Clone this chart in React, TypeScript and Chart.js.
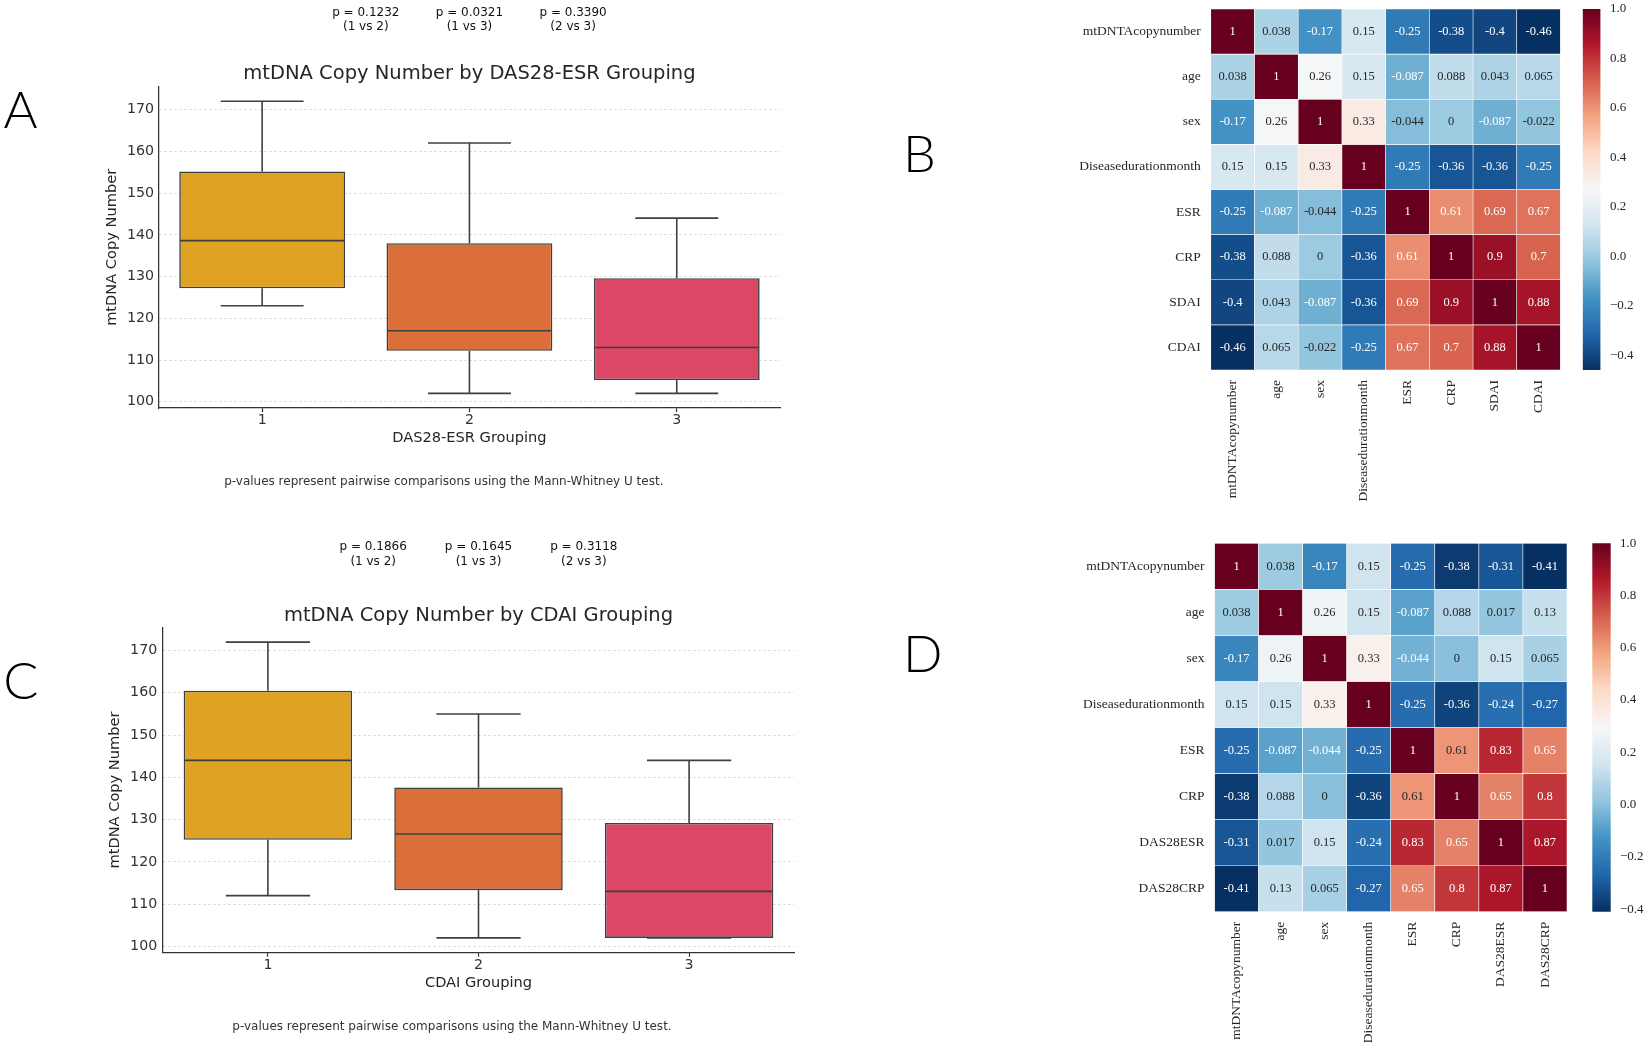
import React, { useEffect, useRef } from 'react';
import { Chart, registerables } from 'chart.js';

Chart.register(...registerables);

// ---------------- DATA ----------------
const groups = ['1', '2', '3'];
const comparisons = ['1 vs 2', '1 vs 3', '2 vs 3'];
const comparisonPositions = [0.5, 1, 1.5];
const boxYTicks = [100, 110, 120, 130, 140, 150, 160, 170];
const boxColors = ['#E0A222', '#DB6F3A', '#DC4766'];
const footnote = 'p-values represent pairwise comparisons using the Mann-Whitney U test.';

// Panel A: DAS28-ESR grouping
const dasMin = [123, 102, 102];
const dasQ1 = [127.2, 112.2, 105.2];
const dasMedian = [138.6, 117, 113];
const dasQ3 = [155.2, 138, 129.6];
const dasMax = [172, 162, 144];
const dasPValues = ['0.1232', '0.0321', '0.3390'];

// Panel C: CDAI grouping
const cdaiMin = [112, 102, 102];
const cdaiQ1 = [125.2, 113.3, 102];
const cdaiMedian = [144, 126.6, 113];
const cdaiQ3 = [160.5, 137.6, 129.2];
const cdaiMax = [172, 155, 144];
const cdaiPValues = ['0.1866', '0.1645', '0.3118'];

// Panel B: correlation heatmap
const varsB = ['mtDNTAcopynumber', 'age', 'sex', 'Diseasedurationmonth', 'ESR', 'CRP', 'SDAI', 'CDAI'];
const corrB = [
  [1, 0.038, -0.17, 0.15, -0.25, -0.38, -0.4, -0.46],
  [0.038, 1, 0.26, 0.15, -0.087, 0.088, 0.043, 0.065],
  [-0.17, 0.26, 1, 0.33, -0.044, 0, -0.087, -0.022],
  [0.15, 0.15, 0.33, 1, -0.25, -0.36, -0.36, -0.25],
  [-0.25, -0.087, -0.044, -0.25, 1, 0.61, 0.69, 0.67],
  [-0.38, 0.088, 0, -0.36, 0.61, 1, 0.9, 0.7],
  [-0.4, 0.043, -0.087, -0.36, 0.69, 0.9, 1, 0.88],
  [-0.46, 0.065, -0.022, -0.25, 0.67, 0.7, 0.88, 1],
];

// Panel D: correlation heatmap
const varsD = ['mtDNTAcopynumber', 'age', 'sex', 'Diseasedurationmonth', 'ESR', 'CRP', 'DAS28ESR', 'DAS28CRP'];
const corrD = [
  [1, 0.038, -0.17, 0.15, -0.25, -0.38, -0.31, -0.41],
  [0.038, 1, 0.26, 0.15, -0.087, 0.088, 0.017, 0.13],
  [-0.17, 0.26, 1, 0.33, -0.044, 0, 0.15, 0.065],
  [0.15, 0.15, 0.33, 1, -0.25, -0.36, -0.24, -0.27],
  [-0.25, -0.087, -0.044, -0.25, 1, 0.61, 0.83, 0.65],
  [-0.38, 0.088, 0, -0.36, 0.61, 1, 0.65, 0.8],
  [-0.31, 0.017, 0.15, -0.24, 0.83, 0.65, 1, 0.87],
  [-0.41, 0.13, 0.065, -0.27, 0.65, 0.8, 0.87, 1],
];

const colorbarTicks = [-0.4, -0.2, 0, 0.2, 0.4, 0.6, 0.8, 1.0];

// RdBu_r colormap stops
const RDBU_R = ['#053061', '#2166ac', '#4393c3', '#92c5de', '#d1e5f0', '#f7f7f7', '#fddbc7', '#f4a582', '#d6604d', '#b2182b', '#67001f'];

// ---------------- HELPERS ----------------
const SANS = '"DejaVu Sans", "Liberation Sans", sans-serif';
const SERIF = '"Liberation Serif", "DejaVu Serif", serif';
const LETTER_FONT = '300 52px Lato, "Liberation Sans", sans-serif';

function hexRgb(h: string): number[] {
  const n = parseInt(h.slice(1), 16);
  return [(n >> 16) & 255, (n >> 8) & 255, n & 255];
}
function cmap(t: number): number[] {
  const tt = Math.max(0, Math.min(1, t));
  const pos = tt * (RDBU_R.length - 1);
  const i = Math.min(RDBU_R.length - 2, Math.floor(pos));
  const f = pos - i;
  const a = hexRgb(RDBU_R[i]);
  const b = hexRgb(RDBU_R[i + 1]);
  return [0, 1, 2].map((k) => Math.round(a[k] + (b[k] - a[k]) * f));
}
function rgbStr(c: number[]) {
  return `rgb(${c[0]},${c[1]},${c[2]})`;
}
function luminance(c: number[]) {
  const lin = c.map((v) => {
    const s = v / 255;
    return s <= 0.03928 ? s / 12.92 : Math.pow((s + 0.055) / 1.055, 2.4);
  });
  return 0.2126 * lin[0] + 0.7152 * lin[1] + 0.0722 * lin[2];
}
function fmt2g(v: number) {
  return String(Number(v.toPrecision(2)));
}
function zeroPadding(s: any) {
  s.paddingTop = 0;
  s.paddingBottom = 0;
  s.paddingLeft = 0;
  s.paddingRight = 0;
}

// ---------------- BOX PLOT ----------------
function createBoxChart(canvas: HTMLCanvasElement, spec: any) {
  const L = spec.layout;
  const ox = L.canvasLeft;
  const oy = L.canvasTop;
  const areaT = L.area.top - oy;
  const areaR = L.area.right - ox;
  const areaB = L.area.bottom - oy;
  const axisTitleSize = 14.6;
  const lh = axisTitleSize * 1.2;
  const lo = Math.min(...spec.min);
  const hi = Math.max(...spec.max);
  const margin = (hi - lo) * 0.05;

  const extras = {
    id: 'boxExtras',
    afterDatasetsDraw(chart: any) {
      const ctx = chart.ctx;
      const ys = chart.scales.y;
      const meta = chart.getDatasetMeta(0);
      ctx.save();
      ctx.strokeStyle = '#3f3f3f';
      ctx.lineWidth = 1.6;
      const seg = (x1: number, y1: number, x2: number, y2: number) => {
        ctx.beginPath();
        ctx.moveTo(x1, y1);
        ctx.lineTo(x2, y2);
        ctx.stroke();
      };
      meta.data.forEach((bar: any, i: number) => {
        const x = bar.x;
        const w = bar.width;
        const pMin = ys.getPixelForValue(spec.min[i]);
        const pQ1 = ys.getPixelForValue(spec.q1[i]);
        const pMed = ys.getPixelForValue(spec.median[i]);
        const pQ3 = ys.getPixelForValue(spec.q3[i]);
        const pMax = ys.getPixelForValue(spec.max[i]);
        seg(x, pQ1, x, pMin);
        seg(x, pQ3, x, pMax);
        seg(x - w / 4, pMin, x + w / 4, pMin);
        seg(x - w / 4, pMax, x + w / 4, pMax);
        seg(x - w / 2 + 0.8, pMed, x + w / 2 - 0.8, pMed);
      });
      ctx.restore();
    },
    afterDraw(chart: any) {
      const ctx = chart.ctx;
      const xs = chart.scales.x;
      const area = chart.chartArea;
      ctx.save();
      ctx.textAlign = 'center';
      ctx.textBaseline = 'middle';
      ctx.fillStyle = '#262626';
      ctx.font = `19.5px ${SANS}`;
      ctx.fillText(spec.title, (area.left + area.right) / 2, L.titleY - oy);
      ctx.font = `12px ${SANS}`;
      ctx.fillStyle = '#111111';
      spec.pValues.forEach((p: string, k: number) => {
        const x = xs.getPixelForValue(comparisonPositions[k]);
        ctx.fillText(`p = ${p}`, x, L.pLineY[0] - oy);
        ctx.fillText(`(${comparisons[k]})`, x, L.pLineY[1] - oy);
      });
      ctx.fillStyle = '#333333';
      ctx.fillText(footnote, L.footX - ox, L.footY - oy);
      ctx.font = LETTER_FONT;
      ctx.fillStyle = '#000000';
      ctx.textAlign = 'left';
      ctx.textBaseline = 'alphabetic';
      ctx.fillText(spec.letter, L.letterX - ox, L.letterBaseline - oy);
      ctx.restore();
    },
  };

  return new Chart(canvas, {
    type: 'bar',
    data: {
      labels: groups,
      datasets: [
        {
          data: spec.q1.map((v: number, i: number) => [v, spec.q3[i]]),
          backgroundColor: boxColors,
          borderColor: '#3f3f3f',
          borderWidth: 1.6,
          borderSkipped: false,
          barPercentage: 0.8,
          categoryPercentage: 1,
        } as any,
      ],
    },
    options: {
      animation: false,
      responsive: false,
      events: [],
      layout: { padding: { left: 0, top: areaT, right: L.width - areaR, bottom: 0 } },
      plugins: { legend: { display: false }, tooltip: { enabled: false }, title: { display: false } },
      scales: {
        x: {
          type: 'category',
          offset: true,
          grid: { display: true, drawOnChartArea: false, drawTicks: true, tickLength: 4, tickWidth: 1.25, tickColor: '#333333', offset: false },
          border: { display: true, color: '#333333', width: 1.25 },
          ticks: { padding: 0, color: '#333333', font: { family: SANS, size: 14.2 } },
          title: {
            display: true,
            text: spec.xTitle,
            color: '#262626',
            font: { family: SANS, size: axisTitleSize },
            padding: { top: 0, bottom: L.height - (L.xTitleY - oy) - lh / 2 },
          },
          afterFit: (s: any) => {
            s.height = L.height - areaB;
            zeroPadding(s);
          },
        },
        y: {
          type: 'linear',
          min: lo - margin,
          max: hi + margin,
          afterBuildTicks: (s: any) => {
            s.ticks = boxYTicks.map((v) => ({ value: v }));
          },
          grid: { display: true, color: '#d0d0d0', lineWidth: 0.8, drawTicks: false },
          border: { display: true, color: '#333333', width: 1.25, dash: [2.5, 2.5] },
          ticks: { padding: L.yTickPad, color: '#333333', font: { family: SANS, size: 14.2 } },
          title: {
            display: true,
            text: 'mtDNA Copy Number',
            color: '#262626',
            font: { family: SANS, size: axisTitleSize },
            padding: { top: L.yTitleX - ox - lh / 2, bottom: 0 },
          },
          afterFit: (s: any) => {
            s.width = L.area.left - ox;
            zeroPadding(s);
          },
        },
      },
    } as any,
    plugins: [extras],
  });
}

// ---------------- HEATMAP ----------------
function createHeatmap(canvas: HTMLCanvasElement, spec: any) {
  const { vars, corr, layout: L } = spec;
  const ox = L.canvasLeft;
  const oy = L.canvasTop;
  const flat = corr.flat();
  const vmin = Math.min(...flat);
  const vmax = Math.max(...flat);
  const colorOf = (v: number) => cmap((v - vmin) / (vmax - vmin));

  const datasets = vars.map((rowName: string, j: number) => ({
    label: rowName,
    data: vars.map(() => 1),
    backgroundColor: corr[j].map((v: number) => rgbStr(colorOf(v))),
    borderColor: '#ffffff',
    borderWidth: 0.6,
    borderSkipped: false,
    barPercentage: 1,
    categoryPercentage: 1,
  }));

  const annot = {
    id: 'annot',
    afterDatasetsDraw(chart: any) {
      const ctx = chart.ctx;
      ctx.save();
      ctx.font = `12.5px ${SERIF}`;
      ctx.textAlign = 'center';
      ctx.textBaseline = 'middle';
      vars.forEach((_: string, j: number) => {
        const meta = chart.getDatasetMeta(j);
        meta.data.forEach((el: any, i: number) => {
          const v = corr[j][i];
          const c = colorOf(v);
          ctx.fillStyle = luminance(c) > 0.408 ? '#262626' : '#ffffff';
          const p = el.getCenterPoint();
          ctx.fillText(fmt2g(v), p.x, p.y);
        });
      });
      ctx.restore();
    },
    afterDraw(chart: any) {
      const ctx = chart.ctx;
      ctx.save();
      ctx.font = LETTER_FONT;
      ctx.fillStyle = '#000000';
      ctx.textAlign = 'left';
      ctx.textBaseline = 'alphabetic';
      ctx.fillText(spec.letter, L.letterX - ox, L.letterBaseline - oy);
      ctx.restore();
    },
  };

  return new Chart(canvas, {
    type: 'bar',
    data: { labels: vars, datasets },
    options: {
      animation: false,
      responsive: false,
      events: [],
      layout: { padding: { left: 0, top: L.area.top - oy, right: L.width - (L.area.right - ox), bottom: 0 } },
      plugins: { legend: { display: false }, tooltip: { enabled: false } },
      scales: {
        x: {
          type: 'category',
          stacked: true,
          offset: true,
          grid: { display: false, drawTicks: false },
          border: { display: false },
          ticks: { autoSkip: false, minRotation: 90, maxRotation: 90, padding: 10, color: '#262626', font: { family: SERIF, size: 13.5 } },
          afterFit: (s: any) => {
            s.height = L.height - (L.area.bottom - oy);
            zeroPadding(s);
          },
        },
        y: {
          type: 'linear',
          stacked: true,
          reverse: true,
          min: 0,
          max: vars.length,
          grid: { display: false, drawTicks: false },
          border: { display: false },
          afterBuildTicks: (s: any) => {
            s.ticks = vars.map((_: string, i: number) => ({ value: i + 0.5 }));
          },
          ticks: {
            padding: 10,
            color: '#262626',
            font: { family: SERIF, size: 13.5 },
            callback: (v: any) => vars[Math.floor(Number(v))],
          },
          afterFit: (s: any) => {
            s.width = L.area.left - ox;
            zeroPadding(s);
          },
        },
      },
    } as any,
    plugins: [annot],
  });
}

// ---------------- COLORBAR ----------------
function createColorbar(canvas: HTMLCanvasElement, spec: any) {
  const L = spec.layout;
  const ox = L.canvasLeft;
  const oy = L.canvasTop;
  const flat = spec.corr.flat();
  const vmin = Math.min(...flat);
  const vmax = Math.max(...flat);
  return new Chart(canvas, {
    type: 'bar',
    data: {
      labels: [''],
      datasets: [
        {
          data: [[vmin, vmax]],
          backgroundColor: (c: any) => {
            const area = c.chart.chartArea;
            if (!area) return '#ffffff';
            const g = c.chart.ctx.createLinearGradient(0, area.bottom, 0, area.top);
            RDBU_R.forEach((col, k) => g.addColorStop(k / (RDBU_R.length - 1), col));
            return g;
          },
          borderWidth: 0,
          barPercentage: 1,
          categoryPercentage: 1,
        } as any,
      ],
    },
    options: {
      animation: false,
      responsive: false,
      events: [],
      layout: {
        padding: {
          left: L.barLeft - ox,
          top: L.top - oy,
          right: 0,
          bottom: L.height - (L.bottom - oy),
        },
      },
      plugins: { legend: { display: false }, tooltip: { enabled: false } },
      scales: {
        x: { type: 'category', display: false },
        y: {
          type: 'linear',
          position: 'right',
          min: vmin,
          max: vmax,
          grid: { display: false, drawTicks: false },
          border: { display: false },
          afterBuildTicks: (s: any) => {
            s.ticks = colorbarTicks.filter((v) => v >= vmin - 1e-9 && v <= vmax + 1e-9).map((v) => ({ value: v }));
          },
          ticks: {
            padding: L.labelLeft - L.barRight,
            color: '#262626',
            font: { family: SERIF, size: 13 },
            callback: (v: any) => {
              const n = Number(v);
              return (n < -1e-9 ? '\u2212' : '') + Math.abs(n).toFixed(1);
            },
          },
          afterFit: (s: any) => {
            s.width = L.width - (L.barRight - ox);
            zeroPadding(s);
          },
        },
      },
    } as any,
  });
}

// ---------------- LAYOUTS ----------------
const layoutA = {
  canvasLeft: 0, canvasTop: 0, width: 800, height: 500,
  area: { left: 158.5, top: 86.7, right: 780.4, bottom: 408 },
  titleY: 74, pLineY: [12.7, 26.7], footX: 443.8, footY: 481.7,
  yTitleX: 112.5, xTitleY: 438.3, yTickPad: 4.5,
  letterX: 3.5, letterBaseline: 128.3,
};
const layoutC = {
  canvasLeft: 0, canvasTop: 500, width: 820, height: 559,
  area: { left: 162.6, top: 627.3, right: 794.4, bottom: 952.7 },
  titleY: 615.5, pLineY: [547.3, 562], footX: 452, footY: 1027.3,
  yTitleX: 115.4, xTitleY: 983.3, yTickPad: 5.4,
  letterX: 3.3, letterBaseline: 698.5,
};
const layoutB = {
  canvasLeft: 880, canvasTop: 0, width: 681, height: 520,
  area: { left: 1210.8, top: 9, right: 1560.5, bottom: 370 },
  letterX: 903, letterBaseline: 172,
};
const layoutD = {
  canvasLeft: 880, canvasTop: 505, width: 688, height: 554,
  area: { left: 1214.5, top: 543.3, right: 1567, bottom: 911.7 },
  letterX: 903, letterBaseline: 672,
};
const layoutCbB = { canvasLeft: 1570, canvasTop: 0, width: 81, height: 400, barLeft: 1582.7, barRight: 1600.5, top: 9, bottom: 370, labelLeft: 1610 };
const layoutCbD = { canvasLeft: 1575, canvasTop: 520, width: 76, height: 420, barLeft: 1592.3, barRight: 1610.7, top: 543.3, bottom: 911.7, labelLeft: 1620 };

function canvasStyle(L: any): React.CSSProperties {
  return { position: 'absolute', left: L.canvasLeft, top: L.canvasTop, width: L.width, height: L.height };
}

export default function App() {
  const refA = useRef<HTMLCanvasElement>(null);
  const refC = useRef<HTMLCanvasElement>(null);
  const refB = useRef<HTMLCanvasElement>(null);
  const refD = useRef<HTMLCanvasElement>(null);
  const refCbB = useRef<HTMLCanvasElement>(null);
  const refCbD = useRef<HTMLCanvasElement>(null);

  useEffect(() => {
    const charts: Chart[] = [];
    charts.push(
      createBoxChart(refA.current!, {
        layout: layoutA, min: dasMin, q1: dasQ1, median: dasMedian, q3: dasQ3, max: dasMax,
        pValues: dasPValues, title: 'mtDNA Copy Number by DAS28-ESR Grouping', xTitle: 'DAS28-ESR Grouping', letter: 'A',
      })
    );
    charts.push(
      createBoxChart(refC.current!, {
        layout: layoutC, min: cdaiMin, q1: cdaiQ1, median: cdaiMedian, q3: cdaiQ3, max: cdaiMax,
        pValues: cdaiPValues, title: 'mtDNA Copy Number by CDAI Grouping', xTitle: 'CDAI Grouping', letter: 'C',
      })
    );
    charts.push(createHeatmap(refB.current!, { vars: varsB, corr: corrB, layout: layoutB, letter: 'B' }));
    charts.push(createHeatmap(refD.current!, { vars: varsD, corr: corrD, layout: layoutD, letter: 'D' }));
    charts.push(createColorbar(refCbB.current!, { corr: corrB, layout: layoutCbB }));
    charts.push(createColorbar(refCbD.current!, { corr: corrD, layout: layoutCbD }));
    return () => charts.forEach((c) => c.destroy());
  }, []);

  return (
    <div style={{ position: 'absolute', left: 0, top: 0, width: 1651, height: 1059, background: '#ffffff', overflow: 'hidden' }}>
      <canvas ref={refA} width={layoutA.width} height={layoutA.height} style={canvasStyle(layoutA)} />
      <canvas ref={refC} width={layoutC.width} height={layoutC.height} style={canvasStyle(layoutC)} />
      <canvas ref={refB} width={layoutB.width} height={layoutB.height} style={canvasStyle(layoutB)} />
      <canvas ref={refD} width={layoutD.width} height={layoutD.height} style={canvasStyle(layoutD)} />
      <canvas ref={refCbB} width={layoutCbB.width} height={layoutCbB.height} style={canvasStyle(layoutCbB)} />
      <canvas ref={refCbD} width={layoutCbD.width} height={layoutCbD.height} style={canvasStyle(layoutCbD)} />
    </div>
  );
}
